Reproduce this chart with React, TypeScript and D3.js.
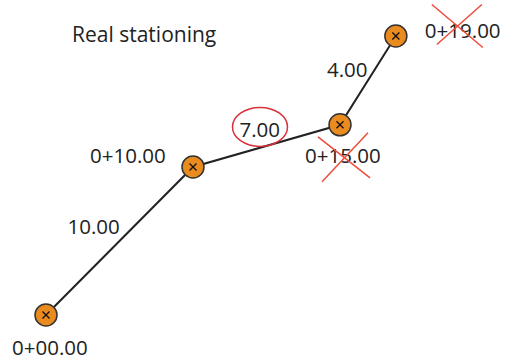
import React from "react";
import * as d3 from "d3";

const stationLabels = ["0+00.00", "0+10.00", "0+15.00", "0+19.00"];
const eastings = [0, 10, 20, 23.8];
const northings = [0, 10, 12.85, 18.85];
const segmentLengths = ["10.00", "7.00", "4.00"];
const struckStations = [false, false, true, true];
const circledSegments = [false, true, false];
const title = "Real stationing";

const W = 509;
const H = 360;
const FONT = "'Open Sans', 'Noto Sans', sans-serif";
const FS = 20.5;
const ORANGE = "#E98B1F";
const RED = "#EE4B3B";

// layout-only offsets relative to points
const stationLabelOffsets: [number, number][] = [
  [-34, 40],
  [-103, -4],
  [-35, 38],
  [29, 1.5],
];
const crossOffsets: number[][] = [
  [],
  [],
  [13, -26, 65, 15, 17, 19, 63, -30],
  [7, -33, 58, 10, 12, 7, 57, -33],
];
const segmentLabelOffsets: [number, number][] = [
  [-52, -7],
  [-27, -9],
  [-41, -3],
];

export default function App() {
  const x = d3.scaleLinear().domain([0, 10]).range([46, 193]);
  const y = d3.scaleLinear().domain([0, 10]).range([315, 167]);
  const pts = eastings.map((e, i) => [x(e), y(northings[i])] as [number, number]);
  const line = d3.line<[number, number]>()(pts) || "";

  return (
    <svg width={W} height={H} style={{ position: "absolute", left: 0, top: 0, background: "#fff" }}>
      <text x={72} y={42} fontFamily={FONT} fontSize={21} fill="#222">
        {title}
      </text>
      <path d={line} fill="none" stroke="#222" strokeWidth={2} />
      {segmentLengths.map((s, i) => {
        const mx = (pts[i][0] + pts[i + 1][0]) / 2;
        const my = (pts[i][1] + pts[i + 1][1]) / 2;
        const tx = mx + segmentLabelOffsets[i][0];
        const ty = my + segmentLabelOffsets[i][1];
        return (
          <g key={"s" + i}>
            <text x={tx} y={ty} fontFamily={FONT} fontSize={FS} fill="#222" textAnchor="start">
              {s}
            </text>
            {circledSegments[i] && (
              <ellipse cx={tx + 20.5} cy={ty - 10} rx={27.5} ry={19.5} fill="none" stroke="#D9303A" strokeWidth={1.5} />
            )}
          </g>
        );
      })}
      {pts.map((p, i) => (
        <g key={"p" + i}>
          <circle cx={p[0]} cy={p[1]} r={11} fill={ORANGE} stroke="#333" strokeWidth={1.5} />
          <path
            d={`M${p[0] - 3.5},${p[1] - 3.5}L${p[0] + 3.5},${p[1] + 3.5}M${p[0] - 3.5},${p[1] + 3.5}L${p[0] + 3.5},${p[1] - 3.5}`}
            stroke="#111"
            strokeWidth={1.3}
          />
        </g>
      ))}
      {stationLabels.map((s, i) => {
        const tx = pts[i][0] + stationLabelOffsets[i][0];
        const ty = pts[i][1] + stationLabelOffsets[i][1];
        const c = crossOffsets[i];
        return (
          <g key={"l" + i}>
            <text x={tx} y={ty} fontFamily={FONT} fontSize={FS} fill="#222">
              {s}
            </text>
            {struckStations[i] && (
              <path
                d={`M${tx + c[0]},${ty + c[1]}L${tx + c[2]},${ty + c[3]}M${tx + c[4]},${ty + c[5]}L${tx + c[6]},${ty + c[7]}`}
                stroke={RED}
                strokeWidth={1.5}
                fill="none"
              />
            )}
          </g>
        );
      })}
    </svg>
  );
}
